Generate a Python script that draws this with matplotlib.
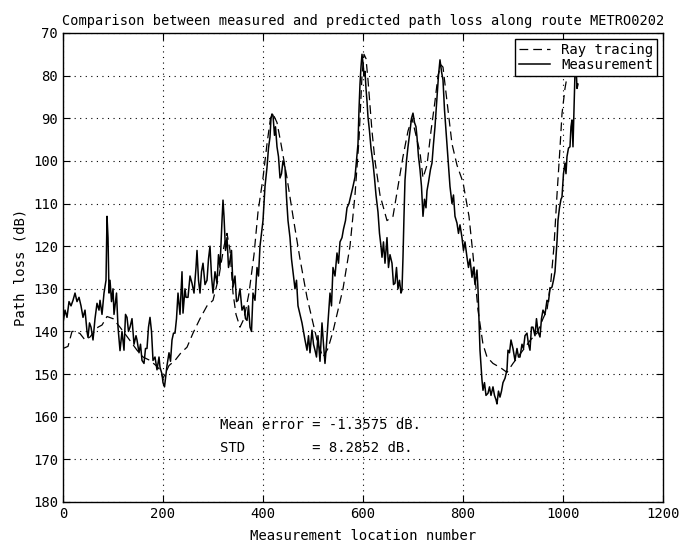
#!/usr/bin/env python3
"""Measured vs ray-traced path loss along route METRO0202 (MATLAB-style line plot)."""

import matplotlib
matplotlib.use("Agg")
import matplotlib.pyplot as plt

meas_x = [0, 4, 8, 12, 16, 20, 24, 28, 32, 36, 40, 44, 48, 50, 53, 56, 60, 64, 68, 72,
          74, 78, 82, 86, 88, 90, 92, 94, 97, 100, 102, 104, 107, 110, 114, 118, 122, 125,
          128, 131, 134, 138, 142, 146, 148, 152, 155, 158, 162, 165, 168, 171, 174, 177,
          180, 184, 188, 192, 194, 198, 200, 203, 206, 208, 212, 215, 218, 221, 224, 227,
          230, 234, 238, 240, 244, 246, 250, 254, 258, 262, 266, 268, 271, 274, 277, 280,
          284, 288, 291, 294, 297, 300, 304, 308, 311, 314, 318, 320, 322, 325, 328, 331,
          334, 337, 340, 344, 347, 350, 354, 358, 362, 365, 368, 371, 374, 377, 380, 384,
          388, 391, 394, 398, 400, 404, 408, 411, 414, 416, 418, 420, 423, 425, 428, 431,
          434, 437, 440, 444, 447, 450, 454, 457, 460, 464, 467, 470, 474, 478, 481, 484,
          488, 491, 494, 498, 501, 504, 507, 510, 514, 518, 521, 524, 527, 530, 534, 537,
          540, 544, 548, 551, 554, 558, 561, 565, 568, 572, 576, 580, 584, 587, 590, 592,
          594, 596, 598, 600, 602, 604, 606, 608, 610, 613, 616, 620, 623, 626, 630, 633,
          636, 638, 641, 644, 648, 651, 654, 658, 661, 664, 667, 670, 673, 676, 678, 680,
          682, 684, 687, 690, 694, 697, 700, 703, 706, 708, 711, 714, 717, 720, 723, 726,
          728, 731, 735, 738, 741, 744, 748, 751, 754, 757, 760, 763, 766, 768, 771, 774,
          778, 781, 784, 788, 791, 794, 798, 801, 804, 808, 811, 814, 818, 821, 824, 828,
          830, 832, 834, 836, 838, 840, 843, 846, 850, 853, 856, 860, 863, 866, 868, 871,
          874, 877, 880, 884, 888, 890, 893, 896, 900, 904, 908, 911, 914, 918, 921, 924,
          928, 931, 934, 937, 940, 944, 947, 950, 954, 957, 960, 964, 968, 971, 974, 978,
          981, 984, 988, 990, 993, 996, 998, 1001, 1004, 1006, 1008, 1011, 1014, 1016,
          1018, 1020, 1022, 1024, 1026, 1028, 1030]
meas_y = [138, 135, 136.7, 133, 134, 132.7, 131, 133, 132, 134, 136.7, 135, 140, 141.4,
          138, 139, 142, 137, 133.4, 135, 132.7, 136, 131, 128, 113, 118, 131, 128, 133,
          130, 136, 134, 131, 139, 144.5, 140, 144.4, 136, 136.7, 140, 139, 137, 143, 141,
          142, 145, 143, 146.8, 147.5, 144, 144, 139, 136.7, 140, 146.8, 146, 149, 146,
          148.4, 150, 152, 153, 150, 148, 145, 147, 142, 140.4, 140.4, 137, 131, 136, 126,
          135.7, 130, 132, 132, 127, 128.7, 131, 125, 121, 128, 131, 126, 124, 129, 128,
          123, 120, 127, 131, 126, 128.7, 122, 125, 114, 109.2, 113, 121, 118, 125, 123.3,
          121, 129.6, 127, 133, 132.7, 130, 135, 134, 137, 137.4, 134, 139, 140, 131,
          132.7, 125, 127, 120, 116, 114, 106, 101.5, 97, 94.4, 90, 89, 89.3, 94, 92,
          96.7, 99, 104, 103, 100, 101.5, 108.5, 114, 118, 123, 126, 130, 128, 134, 136,
          138, 140, 142, 144.4, 141, 145, 139.7, 143, 144.4, 146, 141, 147, 138, 143,
          147.5, 143, 138, 131, 134, 125, 127, 121.6, 124, 119, 118, 116, 114, 111, 110,
          108, 106, 103.8, 100, 96, 88, 82, 78, 75, 77, 80, 79, 83, 86, 89.7, 93, 97,
          100.5, 104, 108, 112, 117, 120, 122.6, 119, 124, 118, 125, 122, 124, 129, 128.7,
          125, 130, 128, 131, 130.3, 122.6, 113, 104.5, 100, 96.7, 93, 90, 88.8, 91, 92,
          94.4, 99, 102, 106, 113, 109, 111, 107, 105, 102, 100.5, 96, 92, 85, 80, 76.3,
          79, 81, 88, 93, 96.7, 101, 106, 110, 108, 113, 114.6, 117, 115, 118, 121, 119,
          122.6, 125, 123, 127.3, 125, 129, 125.6, 130, 137, 144.4, 148, 151.4, 153.8,
          152, 155, 154.5, 153, 155, 153, 155, 156, 157, 154, 155.4, 154, 152, 151, 149,
          144.4, 145, 142, 144, 146.8, 144, 146, 146, 143, 144, 141, 140.4, 143, 144.4,
          139, 139, 141, 137, 140, 141.3, 137, 135, 136, 132.7, 133, 130, 129.6, 128, 126,
          119, 114, 111, 109, 108.5, 103, 100.5, 103, 99, 97, 96.7, 92, 90.4, 96.7, 88,
          79.4, 77, 83, 82]

# ray-tracing prediction
ray_x = [0, 10, 18, 26, 34, 44, 54, 60, 70, 78, 88, 100, 114, 130, 148, 160, 174, 186,
         194, 200, 204, 212, 224, 236, 248, 260, 274, 288, 300, 312, 322, 328, 334, 340,
         346, 354, 362, 372, 382, 390, 400, 408, 415, 420, 428, 436, 448, 460, 474, 488,
         500, 510, 520, 530, 540, 550, 560, 574, 584, 592, 598, 602, 606, 610, 618, 624,
         634, 648, 660, 670, 680, 690, 698, 706, 714, 720, 728, 736, 744, 750, 756, 760,
         768, 778, 788, 800, 812, 820, 830, 840, 848, 860, 875, 888, 900, 920, 935, 948,
         960, 968, 976, 982, 988, 994, 998, 1004, 1010, 1016]
ray_y = [144, 143.5, 140, 140, 140.5, 142, 141.3, 140.4, 139, 138.5, 136.5, 137, 139,
         141.5, 144.4, 146, 146.8, 148, 149, 151, 150, 148, 146.8, 145, 143.7, 140.4, 137,
         134, 132.7, 127, 120, 117, 121, 131, 136, 139, 137, 131, 122, 112, 104, 96, 90,
         89, 91, 96, 104, 113, 123, 132, 138, 143, 146, 144, 140, 135, 130, 120, 108, 95,
         80, 75, 76, 81, 93, 100, 108, 114, 113, 106, 99, 93, 90, 94, 98, 104, 101, 93,
         86, 80, 77.5, 78, 86, 96, 101, 105, 113, 122, 135, 143, 146, 147.5, 148.5, 149.6,
         147.5, 144.4, 142, 140.4, 137, 135, 128, 120, 108, 97, 89, 83, 79, 78]

stats_lines = ["Mean error = -1.3575 dB.", "STD        = 8.2852 dB."]

plt.rcParams["font.family"] = "DejaVu Sans Mono"

fig = plt.figure(figsize=(6.79, 5.46), dpi=100)
ax = fig.add_axes([0.0928, 0.0806, 0.8836, 0.859])

ax.plot(ray_x, ray_y, color="black", lw=0.9, ls=(0, (7, 4)), label="Ray tracing")
ax.plot(meas_x, meas_y, color="black", lw=1.1, label="Measurement")

ax.set_xlim(0, 1200)
ax.set_ylim(180, 70)
ax.set_xticks(range(0, 1201, 200))
ax.set_yticks(range(70, 181, 10))
ax.tick_params(direction="in", top=True, right=True, length=5, labelsize=10)
ax.grid(True, color="black", ls=(0, (1, 4)), lw=0.8)
for s in ax.spines.values():
    s.set_linewidth(1.0)

ax.set_title("Comparison between measured and predicted path loss along route METRO0202",
             fontsize=9.85, pad=6)
ax.set_xlabel("Measurement location number", fontsize=10, labelpad=6)
ax.set_ylabel("Path loss (dB)", fontsize=10)

ax.text(314, 162, stats_lines[0], fontsize=10, va="center")
ax.text(314, 167.3, stats_lines[1], fontsize=10, va="center")

leg = ax.legend(loc="upper right", fontsize=10, fancybox=False, framealpha=1,
                edgecolor="black", handlelength=2.2, borderpad=0.3, labelspacing=0.1,
                borderaxespad=0.4)
leg.get_frame().set_linewidth(1.0)

fig.savefig("out.png", dpi=100, facecolor="white")
